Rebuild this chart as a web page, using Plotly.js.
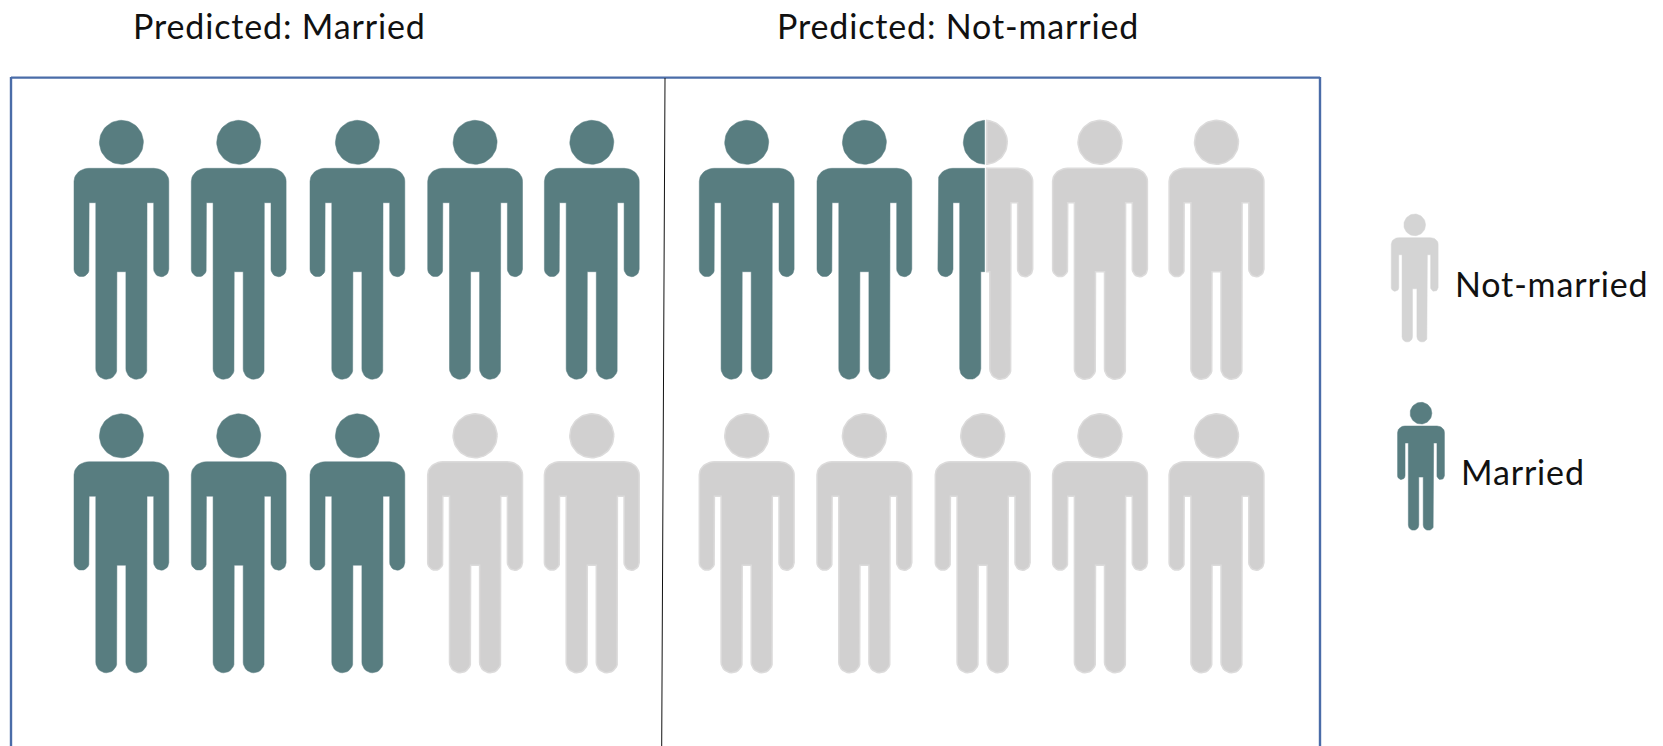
<!DOCTYPE html>
<html>
<head>
<meta charset="utf-8">
<script src="https://cdn.plot.ly/plotly-3.0.1.min.js"></script>
<style>html,body{margin:0;padding:0;background:#fff;overflow:hidden}
.annotation-text{letter-spacing:0.85px}</style>
</head>
<body>
<div id="chart" style="width:1663px;height:746px"></div>
<script>
// ---- chart data ----
const panelTitles = ['Predicted: Married', 'Predicted: Not-married'];
const marriedCounts = [8, 2.5];          // married figures out of 10 in each panel
const figuresPerPanel = 10;
const legendLabels = ['Not-married', 'Married'];

// ---- styling and placement ----
const TEAL = '#587d80', GREY = '#d1d0d0', GREY_EDGE = '#dcdbdb', LEGEND_GREY = '#d4d4d4';
const FRAME = '#4a6ca8';
const FONT = 'Lato, "Open Sans", sans-serif';
const panelColumns = [
  [[121.4, 238.7, 357.4, 475.1, 591.8], [121.4, 238.7, 357.4, 475.1, 591.8]],
  [[746.7, 864.4, 985.3, 1100, 1216.5], [746.7, 864.4, 982.7, 1100, 1216.5]]
];
const rowTops = [120.3, 413.8];
const titleX = [131, 775], titleY = 25;
const legendFigures = [{cx: 1414.7, top: 214, s: 0.494}, {cx: 1421, top: 402.3, s: 0.494}];
const legendText = [{x: 1453, y: 283}, {x: 1459, y: 471}];

// Pictogram template, relative to the figure centre and head top
function arc(cx, cy, rx, ry, a0, a1, n) {
  const p = [];
  for (let i = 0; i <= n; i++) {
    const a = (a0 + (a1 - a0) * i / n) * Math.PI / 180;
    p.push([cx + rx * Math.cos(a), cy + ry * Math.sin(a)]);
  }
  return p;
}
const HEAD = arc(0, 22, 22, 22, 0, 360, 64);
const BODY = (function () {
  const T = 48, W = 47.4, AI = 32.3, BS = 25.6, G = 4.5;
  const armBot = 156.4, under = 82.4, crotch = 151.4, legBot = 259;
  const rightHalf = [
    ...arc(W - 15, T + 13, 15, 13, -90, 0, 10),
    ...arc(W - (W - AI) / 2, armBot - (W - AI) / 2, (W - AI) / 2, (W - AI) / 2, 0, 180, 12),
    [AI, under], [BS, under],
    ...arc((BS + G) / 2, legBot - (BS - G) / 2, (BS - G) / 2, (BS - G) / 2, 0, 180, 14),
    [G, crotch]
  ];
  const leftHalf = rightHalf.map(p => [-p[0], p[1]]).reverse();
  return [...rightHalf, ...leftHalf];
})();

// Keep the part of a polygon on one side of a vertical line
function clip(poly, c, side) {
  const inside = p => side * (p[0] - c) >= 0, out = [];
  poly.forEach((p, i) => {
    const q = poly[(i + 1) % poly.length];
    if (inside(p)) out.push(p);
    if (inside(p) !== inside(q)) {
      const t = (c - p[0]) / (q[0] - p[0]);
      out.push([c, p[1] + t * (q[1] - p[1])]);
    }
  });
  return out;
}

function polyTrace(polys, color, edge, width) {
  const x = [], y = [];
  polys.forEach(pl => {
    pl.forEach(p => { x.push(p[0]); y.push(p[1]); });
    x.push(pl[0][0]); y.push(pl[0][1]);
    x.push(null); y.push(null);
  });
  return {
    type: 'scatter', mode: 'lines', x, y, fill: 'toself', fillcolor: color,
    line: {color: edge, width}, hoverinfo: 'skip', showlegend: false
  };
}
const place = (poly, cx, top, s) => poly.map(p => [cx + p[0] * s, top + p[1] * s]);

const tealPolys = [], greyPolys = [];
panelColumns.forEach((rows, pi) => {
  for (let i = 0; i < figuresPerPanel; i++) {
    const r = Math.floor(i / 5);
    const cx = rows[r][i % 5], top = rowTops[r];
    const share = Math.min(1, Math.max(0, marriedCounts[pi] - i));
    [HEAD, BODY].forEach(part => {
      if (share === 1) tealPolys.push(place(part, cx, top, 1));
      else if (share === 0) greyPolys.push(place(part, cx, top, 1));
      else {
        tealPolys.push(place(clip(part, -0.7, -1), cx, top, 1));
        greyPolys.push(place(clip(part, 1.5, 1), cx, top, 1));
      }
    });
  }
});

const legendGrey = [HEAD, BODY].map(p => place(p, legendFigures[0].cx, legendFigures[0].top, legendFigures[0].s));
const legendTeal = [HEAD, BODY].map(p => place(p, legendFigures[1].cx, legendFigures[1].top, legendFigures[1].s));

const traces = [
  polyTrace(greyPolys, GREY, GREY_EDGE, 1.5),
  polyTrace(tealPolys, TEAL, TEAL, 0.5),
  polyTrace(legendGrey, LEGEND_GREY, LEGEND_GREY, 0.5),
  polyTrace(legendTeal, TEAL, TEAL, 0.5)
];

const frameLine = {color: FRAME, width: 2.4};
const shapes = [
  {type: 'line', xref: 'x', yref: 'y', x0: 11, x1: 1320, y0: 77.6, y1: 77.6, line: frameLine},
  {type: 'line', xref: 'x', yref: 'y', x0: 11, x1: 11, y0: 77, y1: 746, line: frameLine},
  {type: 'line', xref: 'x', yref: 'y', x0: 1320, x1: 1320, y0: 77, y1: 746, line: frameLine},
  {type: 'line', xref: 'x', yref: 'y', x0: 665, x1: 661.7, y0: 78, y1: 746, line: {color: '#111111', width: 1}}
];

const textAnn = (text, x, y) => ({
  text, x, y, xref: 'x', yref: 'y', xanchor: 'left', yanchor: 'middle', showarrow: false,
  font: {family: FONT, size: 34, color: '#111111'}
});
const annotations = [
  ...panelTitles.map((t, i) => textAnn(t, titleX[i], titleY)),
  ...legendLabels.map((t, i) => textAnn(t, legendText[i].x, legendText[i].y))
];

Plotly.newPlot('chart', traces, {
  width: 1663, height: 746,
  margin: {l: 0, r: 0, t: 0, b: 0},
  paper_bgcolor: '#ffffff', plot_bgcolor: '#ffffff',
  xaxis: {range: [0, 1663], visible: false, fixedrange: true},
  yaxis: {range: [746, 0], visible: false, fixedrange: true},
  showlegend: false, hovermode: false, shapes, annotations
}, {displayModeBar: false, staticPlot: true});
</script>
</body>
</html>
